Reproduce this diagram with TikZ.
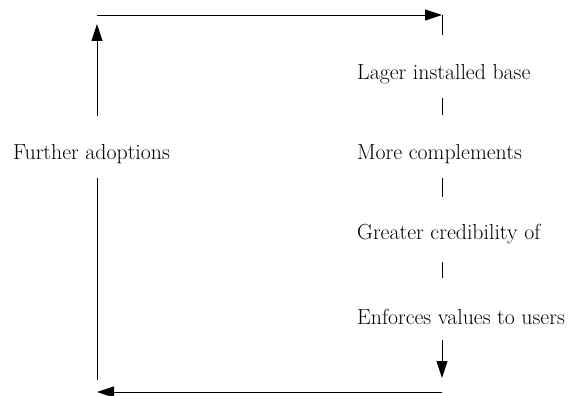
\documentclass[tikz,border=0pt]{standalone}
\usetikzlibrary{arrows.meta}
\begin{document}
\begin{tikzpicture}[x=1pt,y=-1pt,
  lbl/.style={anchor=base west,inner sep=0pt,font=\rmfamily\fontsize{21.8}{26}\selectfont},
  ln/.style={line width=0.9pt},
  arr/.style={ln,-{Triangle[length=17pt,width=11pt]}}]
\useasboundingbox (0,0) rectangle (574,396);
\node[lbl] (lager) at (357,80) {Lager installed base};
\node[lbl] (more) at (357,160) {More complements};
\node[lbl] (cred) at (357,239) {Greater credibility of};
\node[lbl] (enf) at (357,324) {Enforces values to users};
\node[lbl] (fur) at (13,160) {Further adoptions};
% coordinates
\coordinate (tl) at (97,15);
\coordinate (tr) at (442,15);
\coordinate (trd) at (442,35);
\coordinate (upb) at (97,116);
\coordinate (upt) at (97,24);
\coordinate (lb1) at (97,178);
\coordinate (lb2) at (97,380);
\coordinate (br) at (442,392);
\coordinate (bl) at (97,392);
\coordinate (t1a) at (442,98);
\coordinate (t1b) at (442,115);
\coordinate (t2a) at (442,178);
\coordinate (t2b) at (442,197);
\coordinate (t3a) at (442,262);
\coordinate (t3b) at (442,278);
\coordinate (da) at (442,340);
\coordinate (db) at (442,378);
\draw[arr] (upb) -- (upt);
\draw[arr] (tl) -- (tr);
\draw[ln] (tr) -- (trd);
\draw[ln] (t1a) -- (t1b);
\draw[ln] (t2a) -- (t2b);
\draw[ln] (t3a) -- (t3b);
\draw[arr] (da) -- (db);
\draw[arr] (br) -- (bl);
\draw[ln] (lb1) -- (lb2);
\end{tikzpicture}
\end{document}
